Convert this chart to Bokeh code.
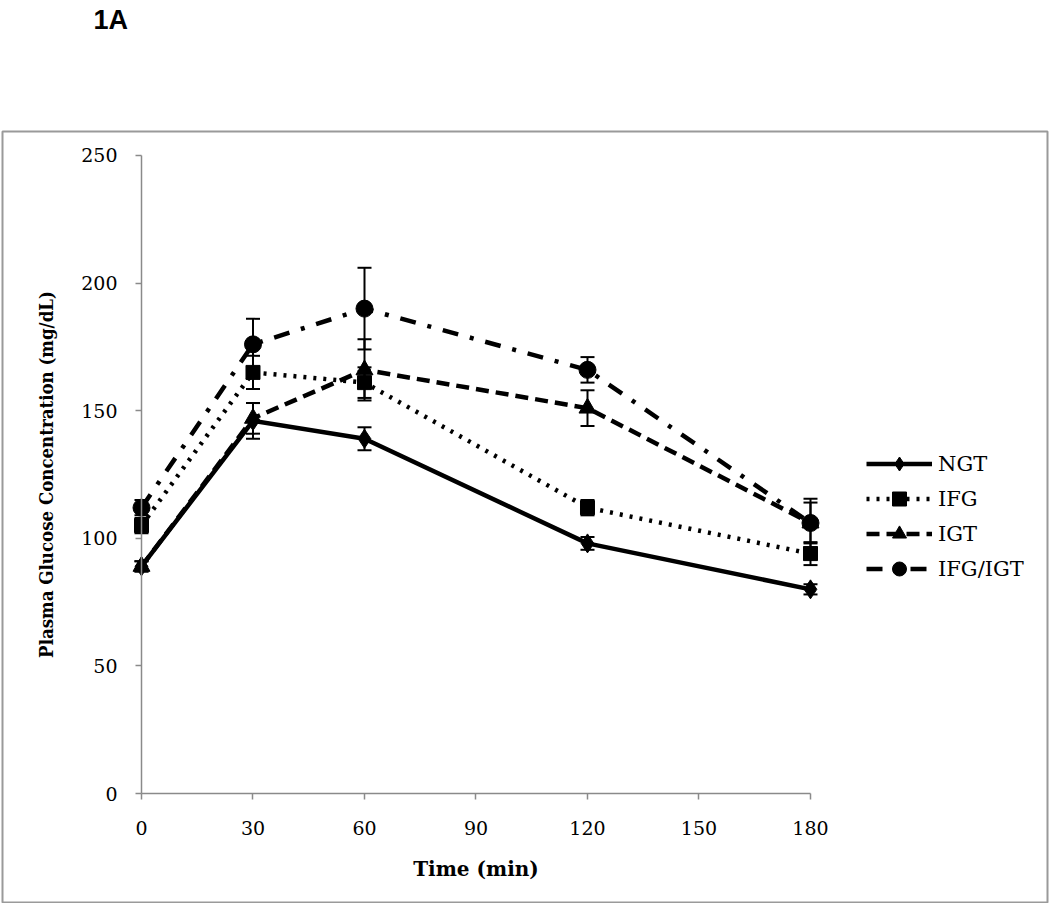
from bokeh.plotting import figure
from bokeh.models import (Range1d, LinearAxis, FixedTicker, Legend, LegendItem,
                          ColumnDataSource, Whisker, TeeHead, Title)
from bokeh.embed import file_html
from bokeh.resources import INLINE

# ---- data ----
times = [0, 30, 60, 120, 180]
groups = ["NGT", "IFG", "IGT", "IFG/IGT"]
ngt = [89, 146, 139, 98, 80]
ngt_err = [2, 7, 4.5, 2.5, 2]
ifg = [105, 165, 161, 112, 94]
ifg_err = [3, 6.5, 6, 3, 4.5]
igt = [89, 147, 166, 151, 106]
igt_err = [2, 6, 12, 7, 8]
ifg_igt = [112, 176, 190, 166, 106]
ifg_igt_err = [3, 10, 16, 5, 9.5]
x_ticks = [0, 30, 60, 90, 120, 150, 180]
y_ticks = [0, 50, 100, 150, 200, 250]

p = figure(frame_width=1045, frame_height=771, title=None,
           min_border_left=2, min_border_right=2, min_border_top=131, min_border_bottom=1,
           x_range=Range1d(-37.4, 243.77), y_range=Range1d(-42.71, 259.4),
           x_axis_type=None, y_axis_type=None,
           output_backend="svg", toolbar_location=None)
p.outline_line_color = "#9a9a9a"
p.outline_line_width = 2
p.background_fill_color = "white"
p.border_fill_color = "white"

# spacer (nearest the frame) then the panel tag "1A" at the very top
p.add_layout(Title(text=" ", text_font_size="10px", standoff=82), "above")
p.add_layout(Title(text="1A", align="left", offset=91, standoff=0, vertical_align="top",
                   text_font="Liberation Sans", text_font_style="bold",
                   text_font_size="27px", text_color="black"), "above")

axis_color = "#8a8a8a"
xaxis = LinearAxis(fixed_location=0, bounds=(0, 180), ticker=FixedTicker(ticks=x_ticks),
                   axis_label="Time (min)")
yaxis = LinearAxis(fixed_location=0, bounds=(0, 250), ticker=FixedTicker(ticks=y_ticks),
                   axis_label="Plasma Glucose Concentration (mg/dL)")
for ax in (xaxis, yaxis):
    ax.axis_line_color = axis_color
    ax.axis_line_width = 1.5
    ax.major_tick_line_color = axis_color
    ax.major_tick_line_width = 1.5
    ax.major_tick_in = 0
    ax.major_tick_out = 6
    ax.minor_tick_line_color = None
    ax.major_label_text_font = "DejaVu Serif"
    ax.major_label_text_font_size = "19px"
    ax.major_label_text_color = "black"
    ax.axis_label_text_color = "black"
    ax.axis_label_text_font_style = "bold"
xaxis.major_label_standoff = 21
xaxis.axis_label_standoff = 19
xaxis.axis_label_text_font = "DejaVu Serif"
xaxis.axis_label_text_font_size = "20px"
yaxis.major_label_standoff = 18
yaxis.axis_label_standoff = 21
yaxis.axis_label_text_font = "DejaVu Serif Condensed"
yaxis.axis_label_text_font_size = "18.5px"
p.add_layout(xaxis, "below")
p.add_layout(yaxis, "left")

series = [
    (ngt, ngt_err, "solid", "diamond", 19),
    (ifg, ifg_err, "3 7", "square", 14),
    (igt, igt_err, "13 7", "triangle", 17),
    (ifg_igt, ifg_igt_err, "16 12 4 12", "circle", 17),
]

items = []
for name, (vals, errs, dash, marker, size) in zip(groups, series):
    src = ColumnDataSource(dict(
        x=times, y=vals,
        upper=[v + e for v, e in zip(vals, errs)],
        lower=[v - e for v, e in zip(vals, errs)]))
    w = Whisker(source=src, base="x", upper="upper", lower="lower",
                line_color="black", line_width=2,
                upper_head=TeeHead(size=14, line_width=2, line_color="black"),
                lower_head=TeeHead(size=14, line_width=2, line_color="black"))
    p.add_layout(w)
    lr = p.line("x", "y", source=src, line_color="black", line_width=4.5, line_dash=dash)
    sr = p.scatter("x", "y", source=src, marker=marker, size=size,
                   fill_color="black", line_color="black")
    items.append(LegendItem(label=name, renderers=[lr, sr]))

legend = Legend(items=items, location=(864, 316), orientation="vertical",
                glyph_width=66, glyph_height=35, label_height=20, spacing=0,
                padding=0, margin=0, border_line_alpha=0, background_fill_alpha=0,
                label_standoff=6, label_text_font="DejaVu Serif",
                label_text_font_size="21px", label_text_color="black")
p.add_layout(legend)

open("out.html", "w").write(file_html(p, INLINE))
